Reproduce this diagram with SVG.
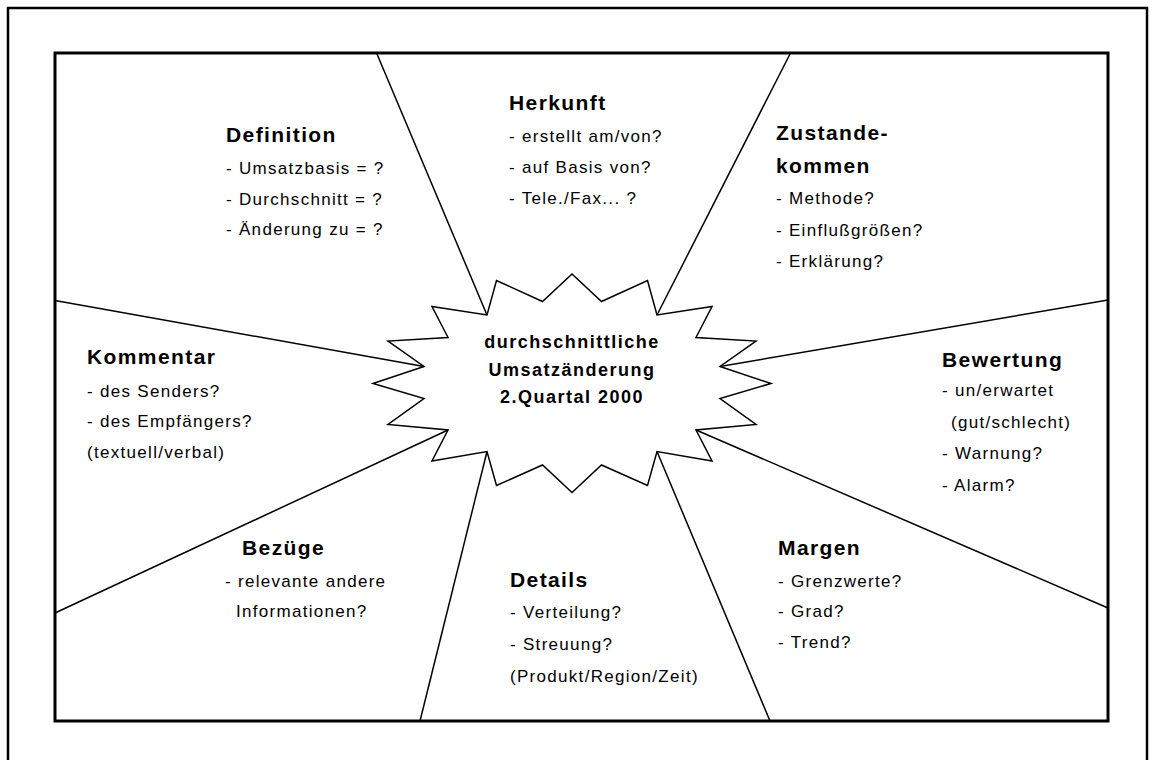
<svg xmlns="http://www.w3.org/2000/svg" width="1159" height="760" viewBox="0 0 1159 760">
<style>
.h{font-family:"Liberation Sans",Arial,sans-serif;font-weight:bold;font-size:21px;letter-spacing:1.4px;fill:#000}
.b{font-family:"Liberation Sans",Arial,sans-serif;font-size:17px;letter-spacing:1.3px;fill:#000}
.c{font-family:"Liberation Sans",Arial,sans-serif;font-weight:bold;font-size:18px;letter-spacing:1.5px;fill:#000;text-anchor:middle}
.ln{stroke:#000;stroke-width:1.5;fill:none}
</style>
<rect width="1159" height="760" fill="#fff"/>
<rect x="8" y="8" width="1139" height="800" fill="none" stroke="#000" stroke-width="2.5"/>
<rect x="55" y="53" width="1053" height="668" fill="none" stroke="#000" stroke-width="3"/>
<g id="connectors">
<line class="ln" x1="377" y1="54" x2="487" y2="315"/>
<line class="ln" x1="790" y1="54" x2="657" y2="315"/>
<line class="ln" x1="55" y1="300.5" x2="424" y2="366.5"/>
<line class="ln" x1="1108" y1="300" x2="720" y2="366.5"/>
<line class="ln" x1="55" y1="613" x2="448" y2="430"/>
<line class="ln" x1="1108" y1="608" x2="696" y2="430"/>
<line class="ln" x1="420" y1="721" x2="487" y2="451.5"/>
<line class="ln" x1="770" y1="721" x2="657" y2="451.5"/>
</g>
<g id="center">
<polygon class="ln" fill="#fff" points="572,274 601.5,301.5 647.5,280.5 657,315 712,306.5 696,337.5 756,341 720,366.5 771,383.5 720,398.5 756,424.5 696,430 712,461 657,451.5 647.5,485.5 601.5,465 572,492.5 542.5,465 496.5,485.5 487,451.5 432,461 448,430 388,424.5 424,398.5 373,383.5 424,366.5 388,341 448,337.5 432,306.5 487,315 496.5,280.5 542.5,301.5"/>
<text class="c" x="572" y="348">durchschnittliche</text>
<text class="c" x="572" y="375.5">Umsatzänderung</text>
<text class="c" x="572" y="403">2.Quartal 2000</text>
</g>
<g id="definition">
<text class="h" x="226" y="142">Definition</text>
<text class="b" x="226" y="174">- Umsatzbasis = ?</text>
<text class="b" x="226" y="204.5">- Durchschnitt = ?</text>
<text class="b" x="226" y="235">- Änderung zu = ?</text>
</g>
<g id="herkunft">
<text class="h" x="509" y="110">Herkunft</text>
<text class="b" x="509" y="142">- erstellt am/von?</text>
<text class="b" x="509" y="173">- auf Basis von?</text>
<text class="b" x="509" y="204">- Tele./Fax... ?</text>
</g>
<g id="zustandekommen">
<text class="h" x="776" y="140">Zustande-</text>
<text class="h" x="776" y="172.5">kommen</text>
<text class="b" x="776" y="204">- Methode?</text>
<text class="b" x="776" y="236">- Einflußgrößen?</text>
<text class="b" x="776" y="267">- Erklärung?</text>
</g>
<g id="kommentar">
<text class="h" x="87" y="364">Kommentar</text>
<text class="b" x="87" y="396.5">- des Senders?</text>
<text class="b" x="87" y="427">- des Empfängers?</text>
<text class="b" x="87" y="458">(textuell/verbal)</text>
</g>
<g id="bewertung">
<text class="h" x="942" y="366.5">Bewertung</text>
<text class="b" x="942" y="396">- un/erwartet</text>
<text class="b" x="951" y="428">(gut/schlecht)</text>
<text class="b" x="942" y="459">- Warnung?</text>
<text class="b" x="942" y="491">- Alarm?</text>
</g>
<g id="bezuege">
<text class="h" x="242" y="555">Bezüge</text>
<text class="b" x="225" y="586.5">- relevante andere</text>
<text class="b" x="236" y="617">Informationen?</text>
</g>
<g id="details">
<text class="h" x="510" y="586.5">Details</text>
<text class="b" x="510" y="618">- Verteilung?</text>
<text class="b" x="510" y="650">- Streuung?</text>
<text class="b" x="510" y="681.5">(Produkt/Region/Zeit)</text>
</g>
<g id="margen">
<text class="h" x="778" y="555">Margen</text>
<text class="b" x="778" y="586.5">- Grenzwerte?</text>
<text class="b" x="778" y="617">- Grad?</text>
<text class="b" x="778" y="647.5">- Trend?</text>
</g>
</svg>
